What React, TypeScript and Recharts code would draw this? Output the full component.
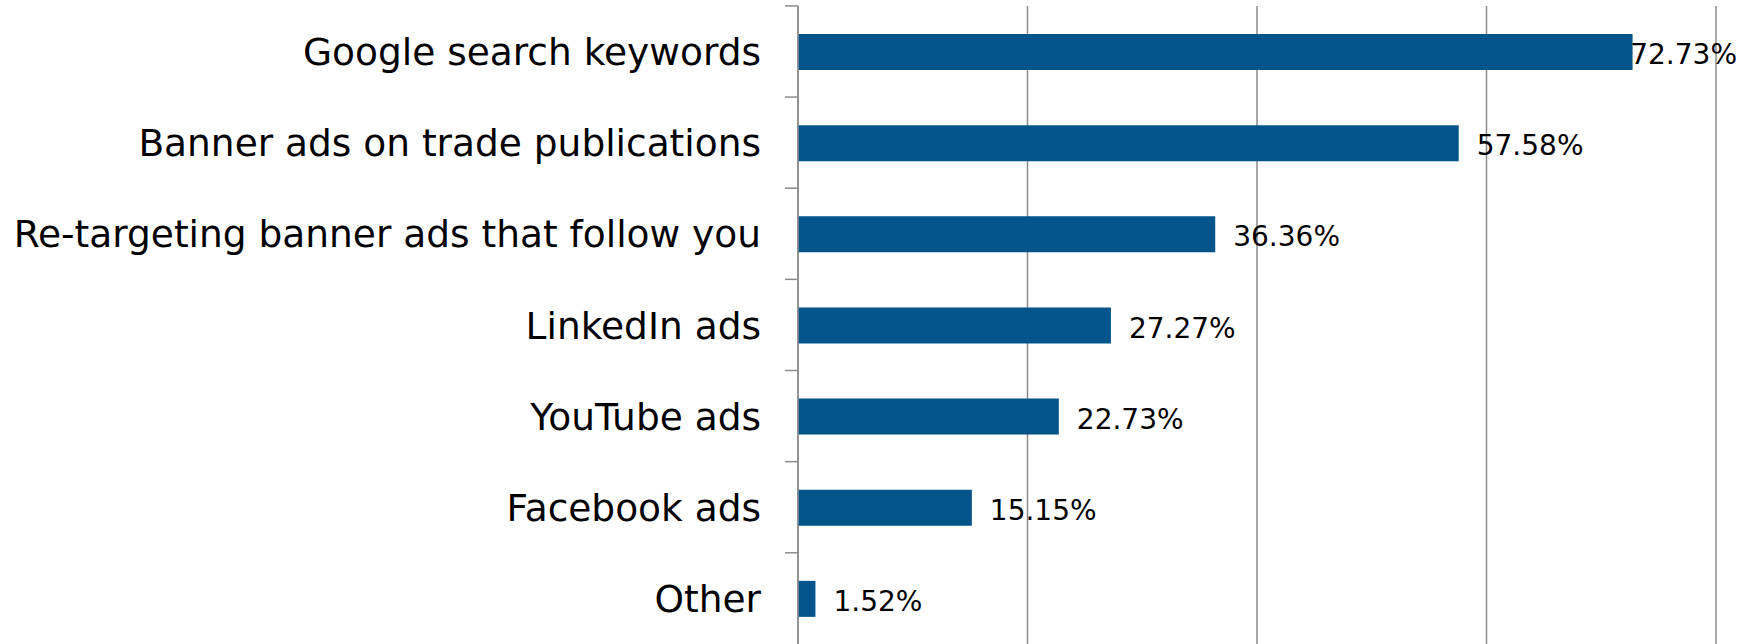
import { BarChart, Bar, XAxis, YAxis, CartesianGrid, LabelList } from "recharts";

const CATEGORIES = [
  "Google search keywords",
  "Banner ads on trade publications",
  "Re-targeting banner ads that follow you",
  "LinkedIn ads",
  "YouTube ads",
  "Facebook ads",
  "Other",
];
const SHARES = [72.73, 57.58, 36.36, 27.27, 22.73, 15.15, 1.52];
const X_TICKS = [0, 20, 40, 60, 80];

const W = 1754;
const H = 650;
const TOP = 6;
const BOTTOM = 5;
const AXIS_W = 798;
const BAND = (H - TOP - BOTTOM) / CATEGORIES.length;
const FONT = "'DejaVu Sans', Verdana, sans-serif";
const GREY = "#8c8c8c";
const BLUE = "#02548a";

const data = CATEGORIES.map((name, i) => ({ name, value: SHARES[i] }));

function CategoryTick(props: any) {
  const { x, y, payload } = props;
  const axisX = x + 37;
  const yb = y - BAND / 2;
  return (
    <g>
      <line x1={axisX - 13} x2={axisX} y1={yb} y2={yb} stroke={GREY} strokeWidth={1.5} />
      <text
        x={x}
        y={y}
        textAnchor="end"
        dy="0.36em"
        fontSize={37.5}
        fontFamily={FONT}
        fill="#000"
      >
        {payload.value}
      </text>
    </g>
  );
}

function ValueLabel(props: any) {
  const { x, y, width, height, value } = props;
  const text = value.toFixed(2) + "%";
  const fs = 28;
  let tx = x + width + 18;
  let anchor: "start" | "end" = "start";
  const est = text.length * fs * 0.62;
  if (tx + est > W - 12) {
    tx = W - 17;
    anchor = "end";
  }
  return (
    <text
      x={tx}
      y={y + height / 2 + 2}
      dy="0.36em"
      textAnchor={anchor}
      fontSize={fs}
      fontFamily={FONT}
      fill="#000"
    >
      {text}
    </text>
  );
}

const EmptyTick = () => <g />;

export default function App() {
  return (
    <div style={{ position: "absolute", left: 0, top: 0, width: W, height: 644, overflow: "hidden", background: "#fff" }}>
      <BarChart
        layout="vertical"
        width={W}
        height={H}
        data={data}
        margin={{ top: TOP, right: 38, bottom: BOTTOM, left: 0 }}
        barSize={36}
      >
        <CartesianGrid horizontal={false} stroke={GREY} strokeWidth={1.5} syncWithTicks />
        <XAxis
          type="number"
          domain={[0, 80]}
          ticks={X_TICKS}
          interval={0}
          tick={<EmptyTick />}
          tickLine={false}
          axisLine={false}
          height={1}
        />
        <YAxis
          type="category"
          dataKey="name"
          width={AXIS_W}
          axisLine={{ stroke: GREY, strokeWidth: 1.5 }}
          tickLine={false}
          tickSize={13}
          tickMargin={24}
          tick={<CategoryTick />}
          interval={0}
        />
        <Bar dataKey="value" fill={BLUE} isAnimationActive={false}>
          <LabelList dataKey="value" content={<ValueLabel />} />
        </Bar>
      </BarChart>
    </div>
  );
}
